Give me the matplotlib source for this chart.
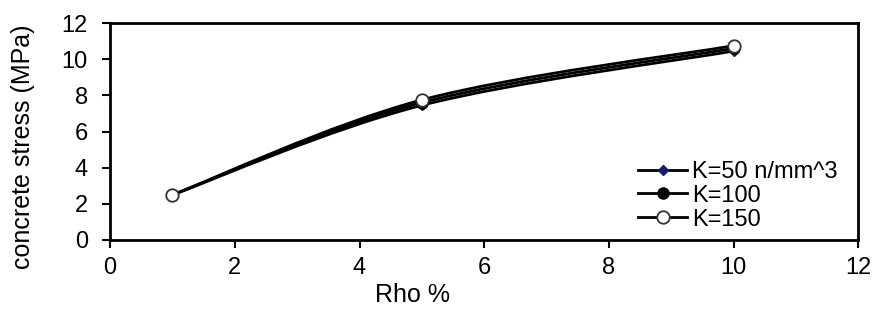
import matplotlib
matplotlib.use("Agg")
import matplotlib.pyplot as plt
from matplotlib.path import Path
from matplotlib.patches import PathPatch
from matplotlib.lines import Line2D
import numpy as np

plt.rcParams['font.family'] = ['Liberation Sans', 'DejaVu Sans']

# data
rho = [1, 5, 10]
k50 = [2.5, 7.45, 10.45]
k100 = [2.5, 7.6, 10.6]
k150 = [2.5, 7.75, 10.75]
labels = ["K=50 n/mm^3", "K=100", "K=150"]


def smooth_path(x, y, t=0.5):
    # Excel-like smoothed line (Catmull-Rom -> cubic Bezier)
    x = np.asarray(x, float)
    y = np.asarray(y, float)
    verts = [(x[0], y[0])]
    codes = [Path.MOVETO]
    n = len(x)
    for i in range(n - 1):
        x0, y0 = (x[i - 1], y[i - 1]) if i > 0 else (x[i], y[i])
        x3, y3 = (x[i + 2], y[i + 2]) if i + 2 < n else (x[i + 1], y[i + 1])
        c1 = (x[i] + (x[i + 1] - x0) * t / 3, y[i] + (y[i + 1] - y0) * t / 3)
        c2 = (x[i + 1] - (x3 - x[i]) * t / 3, y[i + 1] - (y3 - y[i]) * t / 3)
        verts += [c1, c2, (x[i + 1], y[i + 1])]
        codes += [Path.CURVE4] * 3
    return Path(verts, codes)


fig = plt.figure(figsize=(8.74, 3.2), dpi=100)
ax = fig.add_axes([0.126, 0.25, 0.856, 0.678])

series = [k50, k100, k150]
styles = [dict(marker='D', ms=5, mfc='#1a1a6e', mec='#1a1a6e'),
          dict(marker='o', ms=8, mfc='black', mec='black'),
          dict(marker='o', ms=9, mfc='white', mec='#333333', mew=1.3)]

handles = []
for ys, st, lab in zip(series, styles, labels):
    ax.add_patch(PathPatch(smooth_path(rho, ys), fc='none', ec='black', lw=2, zorder=2))
    ax.plot(rho, ys, ls='none', zorder=3, **st)
    handles.append(Line2D([], [], color='black', lw=2, label=lab, **st))

ax.set_xlim(0, 12)
ax.set_ylim(0, 12)
ax.set_xticks(range(0, 13, 2))
ax.set_yticks(range(0, 13, 2))
ax.set_xlabel("Rho %", fontsize=18)
ax.set_ylabel("concrete stress (MPa)", fontsize=18)
ax.xaxis.set_label_coords(0.404, -0.2)
ax.yaxis.set_label_coords(-0.1, 0.43)
ax.tick_params(labelsize=17, width=1.5, length=6, direction='out')
ax.tick_params(axis='x', pad=6)
ax.tick_params(axis='y', pad=10)
for s in ax.spines.values():
    s.set_linewidth(2)

ax.legend(handles=handles, loc='lower right', frameon=False, fontsize=17,
          handlelength=2.1, handletextpad=0.2, labelspacing=0.08,
          borderaxespad=0.0, bbox_to_anchor=(0.985, 0.0))

plt.savefig("out.png", dpi=100)
